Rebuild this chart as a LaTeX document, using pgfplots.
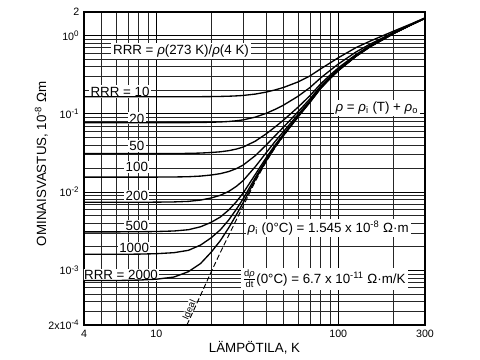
\documentclass[border=0pt]{standalone}
\usepackage{pgfplots}
\pgfplotsset{compat=1.18}
\usepackage{pgfplotstable}
\usepackage{fontspec}
\setmainfont{Liberation Sans}

\pgfplotstableread{
T r10 r20 r50 r100 r200 r500 r1000 r2000
4 0.165 0.077 0.031 0.0155 0.0074 0.0031 0.0016 0.00074
6 0.165 0.077 0.031 0.0155 0.0074 0.0031 0.0016 0.00074
8 0.165 0.077 0.031 0.0155 0.00741 0.00311 0.00161 0.00075
10 0.165 0.077 0.031 0.01553 0.00743 0.00313 0.00163 0.00077
12.5 0.16508 0.07708 0.03108 0.01558 0.00748 0.00318 0.00168 0.00082
15 0.1652 0.0772 0.0312 0.0157 0.0076 0.0033 0.0018 0.00096
17.5 0.1655 0.0775 0.0315 0.0160 0.0079 0.0036 0.0021 0.00122
20 0.166 0.078 0.032 0.0165 0.0084 0.0041 0.0026 0.0017
22.5 0.1667 0.0787 0.0327 0.0172 0.0091 0.0048 0.0033 0.0024
25 0.1678 0.0798 0.0338 0.0183 0.0102 0.0059 0.0044 0.0035
27.5 0.1694 0.0814 0.0354 0.0199 0.0118 0.0075 0.0060 0.0051
30 0.1716 0.0836 0.0376 0.0221 0.0140 0.0097 0.0082 0.0073
35 0.1787 0.0907 0.0447 0.0292 0.0211 0.0168 0.0153 0.0144
40 0.189 0.101 0.055 0.0395 0.0314 0.0271 0.0256 0.0247
45 0.202 0.114 0.068 0.0525 0.0444 0.0401 0.0386 0.0377
50 0.217 0.129 0.083 0.0675 0.0594 0.0551 0.0536 0.0527
60 0.255 0.167 0.121 0.1055 0.0974 0.0931 0.0916 0.0907
70 0.305 0.217 0.171 0.1555 0.1474 0.1431 0.1416 0.1407
80 0.375 0.287 0.241 0.2255 0.2174 0.2131 0.2116 0.2107
90 0.445 0.357 0.311 0.2955 0.2874 0.2831 0.2816 0.2807
100 0.52 0.432 0.386 0.3705 0.3624 0.3581 0.3566 0.3557
125 0.70 0.615 0.571 0.5555 0.547 0.543 0.542 0.541
150 0.85 0.78 0.75 0.735 0.727 0.723 0.722 0.721
175 0.99 0.93 0.905 0.893 0.886 0.883 0.882 0.881
200 1.13 1.09 1.07 1.06 1.055 1.052 1.051 1.05
250 1.40 1.38 1.37 1.365 1.362 1.361 1.36 1.36
300 1.68 1.67 1.665 1.662 1.661 1.66 1.66 1.66
}\rrrtable

\begin{document}
\begin{tikzpicture}
\path[use as bounding box] (-63pt,-26.25pt) rectangle (297pt,243.75pt);
\begin{axis}[
  scale only axis, width=255.75pt, height=234.75pt,
  xmode=log, ymode=log,
  xmin=4, xmax=300, ymin=2e-4, ymax=2,
  xtick={4,10,100,300}, xticklabels={4,10,100,300},
  minor xtick={5,6,7,8,9,20,30,40,50,60,70,80,90,200},
  ytick={2e-4,1e-3,1e-2,1e-1,1,2},
  yticklabels={2x10\textsuperscript{-4},10\textsuperscript{-3},10\textsuperscript{-2},10\textsuperscript{-1},10\textsuperscript{0},2},
  minor ytick={3e-4,4e-4,5e-4,6e-4,7e-4,8e-4,9e-4,2e-3,3e-3,4e-3,5e-3,6e-3,7e-3,8e-3,9e-3,2e-2,3e-2,4e-2,5e-2,6e-2,7e-2,8e-2,9e-2,0.2,0.3,0.4,0.5,0.6,0.7,0.8,0.9},
  grid=both,
  major grid style={black, line width=0.8pt},
  minor grid style={black!85, line width=0.45pt},
  major tick length=0pt, minor tick length=0pt,
  axis line style={black, line width=0.9pt},
  tick label style={font=\fontsize{8}{9}\selectfont},
  /pgf/number format/assume math mode=true,
  xlabel={LÄMPÖTILA, K},
  ylabel={OMINAISVASTUS, 10\textsuperscript{-8} Ωm},
  label style={font=\fontsize{10}{12}\selectfont},
  xlabel style={at={(axis description cs:0.5,-0.073)}, anchor=center},
  ylabel style={at={(axis description cs:-0.125,0.515)}, anchor=center},
  every node/.append style={font=\fontsize{8}{9.6}\selectfont},
]
\node[fill=white, inner sep=1.5pt] at (rel axis cs:0.2845,0.875) {RRR = \textit{ρ}(273 K)/\textit{ρ}(4 K)};
\node[fill=white, inner sep=1pt] at (rel axis cs:0.1056,0.746) {RRR = 10};
\node[fill=white, inner sep=1pt] at (rel axis cs:0.155,0.660) {20};
\node[fill=white, inner sep=1pt] at (rel axis cs:0.155,0.571) {50};
\node[fill=white, inner sep=1pt] at (rel axis cs:0.155,0.504) {100};
\node[fill=white, inner sep=1pt] at (rel axis cs:0.155,0.411) {200};
\node[fill=white, inner sep=1pt] at (rel axis cs:0.155,0.315) {500};
\node[fill=white, inner sep=1pt] at (rel axis cs:0.147,0.245) {1000};
\node[fill=white, inner sep=1pt] at (rel axis cs:0.1085,0.159) {RRR = 2000};
\node[fill=white, inner sep=0.5pt, rotate=66, font=\fontsize{7}{8}\selectfont] at (rel axis cs:0.308,0.048) {Ideal};
\node[fill=white, inner sep=1.5pt] at (rel axis cs:0.859,0.693) {\textit{ρ} = \textit{ρ}\textsubscript{i} (T) + \textit{ρ}\textsubscript{o}};
\node[fill=white, inner sep=1.5pt] at (rel axis cs:0.716,0.310) {\textit{ρ}\textsubscript{i} (0°C) = 1.545 x 10\textsuperscript{-8} Ω·m};
\node[fill=white, inner sep=1.5pt] at (rel axis cs:0.704,0.147) {$\frac{\hbox{\fontsize{7}{8}\selectfont d\textit{ρ}}}{\hbox{\fontsize{7}{8}\selectfont dt}}$(0°C) = 6.7 x 10\textsuperscript{-11} Ω·m/K};

\addplot[black, line width=1pt] table[x=T, y=r10] {\rrrtable};
\addplot[black, line width=1pt] table[x=T, y=r20] {\rrrtable};
\addplot[black, line width=1pt] table[x=T, y=r50] {\rrrtable};
\addplot[black, line width=1pt] table[x=T, y=r100] {\rrrtable};
\addplot[black, line width=1pt] table[x=T, y=r200] {\rrrtable};
\addplot[black, line width=1pt] table[x=T, y=r500] {\rrrtable};
\addplot[black, line width=1pt] table[x=T, y=r1000] {\rrrtable};
\addplot[black, line width=1pt] table[x=T, y=r2000] {\rrrtable};
\addplot[black, line width=0.7pt, dash pattern=on 4pt off 2pt] coordinates {
(14.7,0.0002) (15,0.00022) (17.5,0.00048) (20,0.00095) (22.5,0.0017) (25,0.0028) (27.5,0.0044) (30,0.0066) (35,0.0137) (40,0.024) (45,0.037) (50,0.052) (60,0.090)
};
\end{axis}
\end{tikzpicture}
\end{document}
